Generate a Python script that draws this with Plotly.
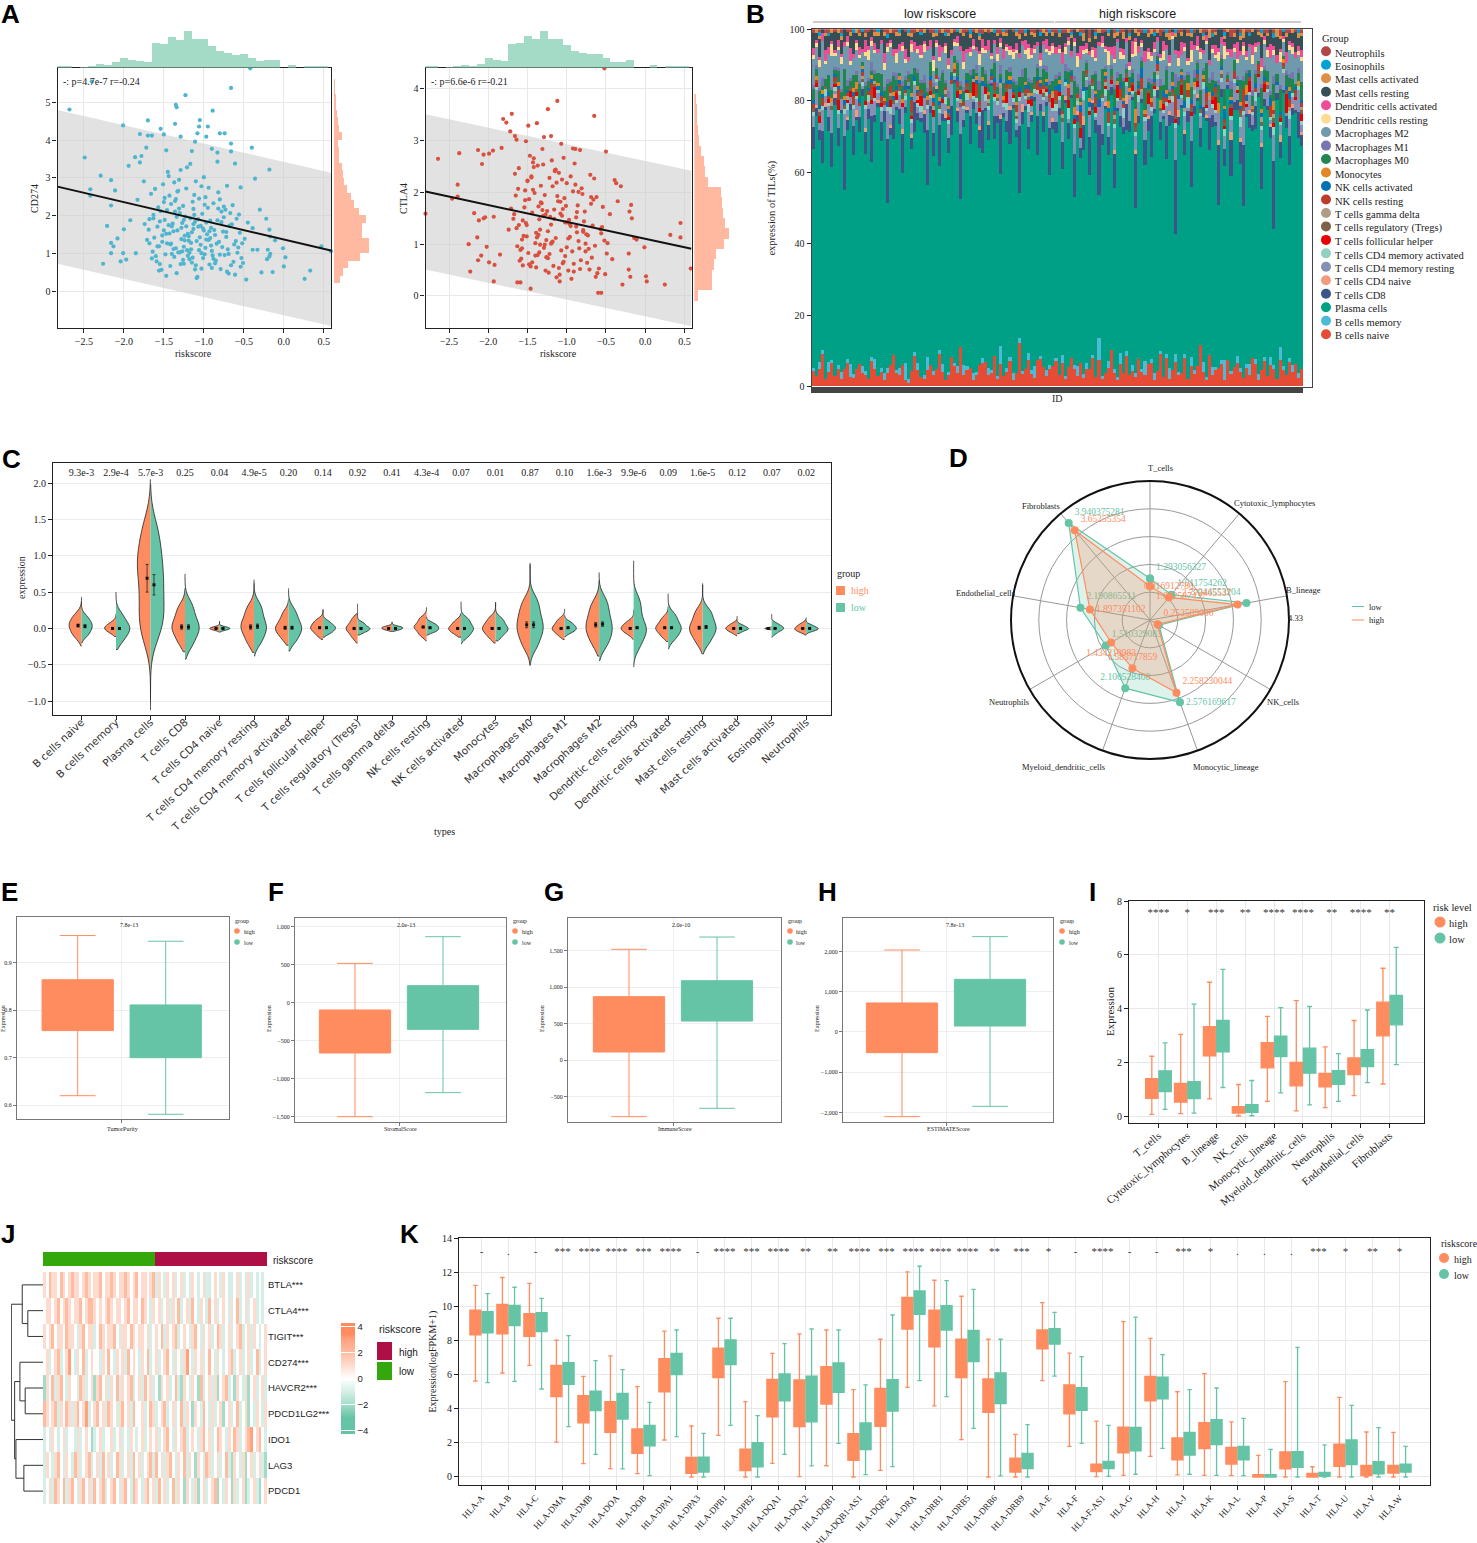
import numpy as np
import plotly.graph_objects as go

W, H = 1477, 1543
ORANGE = '#FF8C5F'
GREEN = '#66C4A6'
SERIF = 'Liberation Serif'
SANS = 'Liberation Sans'

# ---------- panel A
cd274_x = [-2.68,-2.84,-2.49,-2.29,-2.16,-2.42,-2.42,-2.16,-2.11,-2.21,-2.26,-2.16,-2.08,-2.13,-2.16,-2.04,-1.97,-2.01,-1.85,-2.01,
           -1.80,-1.70,-1.70,-1.65,-1.72,-1.54,-1.50,-1.47,-1.35,-1.34,-1.23,-0.66,-0.89,-1.05,-1.36,-1.06,-0.95,-1.29,-1.08,-0.97,
           -0.80,-0.74,-0.66,-0.40,-0.66,-0.83,-0.90,-1.11,-1.15,-0.61,-0.83,-0.18,-0.36,-0.54,-0.71,-0.30,-0.22,-0.39,-0.18,-0.17,
           -0.11,-0.01,0.47,0.59,0.26,0.33,0.02,0.00,-0.14,-0.28,-0.18,-0.21,-0.17,-0.20,-0.33,-0.39,-0.42,-2.40,
           -1.62,-1.55,-1.48,-1.41,-1.35,-1.28,-1.22,-1.15,-1.09,-1.02,-0.96,-0.90,-0.83,-0.77,-0.71,-0.64,-0.58,-1.71,-1.66,-1.60,
           -1.53,-1.46,-1.39,-1.33,-1.26,-1.19,-1.13,-1.06,-1.00,-0.93,-0.87,-0.80,-0.74,-0.68,-0.61,-0.55,-1.68,-1.57,-1.50,-1.44,
           -1.37,-1.30,-1.24,-1.17,-1.11,-1.04,-0.98,-0.91,-0.85,-0.78,-0.72,-0.66,-0.59,-0.53,-1.64,-1.58,-1.51,-1.43,-1.36,-1.29,
           -1.23,-1.16,-1.10,-1.03,-0.97,-0.89,-0.82,-0.76,-0.70,-0.63,-0.56,-0.49,-1.69,-1.63,-1.56,-1.49,-1.42,-1.34,-1.27,-1.20,
           -1.14,-1.08,-1.01,-0.95,-0.88,-0.81,-0.75,-0.69,-0.62,-0.54,-0.47,-1.59,-1.52,-1.45,-1.38,-1.31,-1.25,-1.18,-1.12,-1.05,
           -0.99,-0.92,-0.86,-0.79,-0.73,-0.65,-0.57,-0.51,-1.65,-1.54,-1.47,-1.40,-1.32,-1.21,-1.07,-0.94,-0.84,-1.61,-1.56,-1.42,
           -1.33,-1.26,-1.20,-1.13,-1.03,-0.97,-0.88,-0.80,-0.72,-0.67,-0.60,-1.74,-1.68,-1.49,-1.37,-1.28,-1.17,-1.09,-0.98,-0.91,
           -1.44,-1.38,-1.31,-1.24,-1.18,-1.11,-1.04,-0.99,-0.92,-1.52,-1.46,-1.40,-1.27,-1.15,-1.01,-1.35,-1.21,-1.07,-1.25,-1.12,
           -1.58,-1.47,-1.36,-1.30,-1.22,-1.14,-1.06,-0.94,-0.86,-0.75,-1.50,-1.41,-1.32,-1.19,-1.10,-1.00,-0.90,-0.78,-0.69,-1.63,
           -1.55,-1.43,-1.34,-1.25,-1.16,-1.03,-0.93,-0.82,-1.29,-1.13,-2.00,-1.92,-1.86,-1.80,-1.94,-1.75,-1.83,-1.78,-0.45,-0.52]
cd274_y = [4.81,4.31,3.54,3.06,2.94,2.70,2.53,2.27,2.67,1.73,0.73,1.28,1.40,1.19,1.01,0.79,0.84,1.01,1.01,4.39,
           4.16,4.52,4.12,4.12,3.80,4.30,4.15,3.73,4.93,4.87,5.19,5.38,4.78,4.53,4.43,4.36,4.36,4.09,4.18,4.09,
           4.18,4.18,3.91,3.80,3.70,3.67,3.77,3.96,3.71,3.38,3.43,3.22,2.98,2.75,2.79,2.16,1.92,1.67,1.63,1.45,
           1.35,1.14,1.19,1.06,0.33,0.55,0.90,0.66,0.51,0.50,0.92,0.85,0.99,1.10,1.10,1.10,5.90,5.55,
           1.42,1.85,0.98,2.31,1.14,1.68,2.72,0.76,1.33,2.05,1.51,0.62,1.88,1.17,0.52,2.28,1.02,1.36,2.58,0.93,
           0.57,1.27,1.79,2.64,0.83,1.46,2.18,1.09,3.02,0.71,1.62,2.43,0.96,1.74,0.44,1.55,1.91,2.22,1.61,3.05,
           0.91,2.07,1.35,3.37,0.58,1.73,2.49,1.21,0.81,2.11,1.44,0.69,1.92,0.88,1.05,1.71,2.83,1.53,2.39,0.72,
           1.98,1.28,2.91,1.01,1.82,0.95,2.62,1.58,1.11,0.78,2.03,1.39,1.63,2.02,1.19,2.47,0.67,1.97,1.06,1.52,
           2.37,0.38,1.66,2.21,0.86,1.31,1.96,0.47,1.24,0.65,0.31,0.79,1.31,3.16,1.59,2.95,1.18,0.85,2.55,1.43,
           0.98,1.87,1.49,0.59,2.16,1.77,1.16,0.75,0.87,2.12,0.41,1.72,1.03,3.28,1.91,2.74,1.26,2.71,0.55,1.24,
           1.61,2.26,0.94,1.65,0.60,1.37,2.33,0.97,1.57,2.07,1.33,1.78,1.27,1.89,2.88,1.38,1.93,0.35,1.15,1.68,
           1.75,1.12,2.19,1.47,1.02,1.84,1.23,2.29,1.41,1.48,2.15,0.99,1.81,1.56,0.88,2.44,1.09,1.71,0.73,2.02,
           1.19,1.52,2.11,1.03,1.72,0.89,2.45,1.36,0.74,2.24,2.36,1.26,2.66,1.34,0.69,1.61,1.07,1.83,0.99,1.93,
           0.72,2.53,0.48,1.89,1.11,2.78,1.59,2.19,3.21,1.78,1.64,1.88,3.55,3.41,3.32,2.91,2.42,3.58,1.82,1.27]
ctla4_x = [-1.70,-1.81,-1.77,-1.12,-1.24,-0.65,-1.49,-1.38,-1.72,-1.66,-1.64,-1.52,-1.29,-1.20,-1.07,-1.31,-1.83,-1.94,-2.13,-2.06,
           -1.99,-2.37,-2.64,-2.08,-0.50,-0.83,-0.92,-0.89,-2.39,-2.39,-2.46,-2.80,-2.18,-2.12,-2.06,-2.04,-1.93,-2.14,-2.25,-2.02,
           -2.09,-2.13,-2.23,-1.93,-1.99,-1.92,-1.85,0.58,-0.52,0.45,0.45,0.32,-0.01,0.25,0.02,0.01,-0.29,-0.19,-0.21,-0.21,
           -0.39,-0.37,-0.31,-0.35,-0.18,-0.20,-0.17,-0.14,-0.11,-0.56,-0.60,-1.46,-1.63,-1.59,
           -1.65,-1.58,-1.52,-1.45,-1.39,-1.32,-1.26,-1.19,-1.13,-1.06,-1.00,-0.93,-0.87,-0.80,-0.74,-0.67,-0.61,-0.54,-0.48,-0.42,
           -1.62,-1.55,-1.48,-1.42,-1.35,-1.29,-1.22,-1.16,-1.09,-1.03,-0.96,-0.90,-0.83,-0.77,-0.70,-0.64,-0.57,-0.51,-0.45,-1.68,
           -1.60,-1.53,-1.47,-1.40,-1.33,-1.27,-1.20,-1.14,-1.07,-1.01,-0.94,-0.88,-0.81,-0.75,-0.68,-0.62,-0.55,-0.49,-1.74,-1.66,
           -1.57,-1.50,-1.44,-1.37,-1.30,-1.24,-1.17,-1.11,-1.04,-0.98,-0.91,-0.85,-0.78,-0.72,-0.65,-0.59,-0.52,-1.71,-1.63,-1.56,
           -1.49,-1.43,-1.36,-1.28,-1.23,-1.15,-1.08,-1.02,-0.95,-0.89,-0.82,-0.76,-0.69,-0.63,-0.56,-1.61,-1.54,-1.46,-1.41,-1.34,
           -1.25,-1.18,-1.10,-1.05,-0.97,-0.92,-0.84,-0.79,-0.71,-0.66,-1.59,-1.51,-1.45,-1.38,-1.31,-1.26,-1.21,-1.13,-1.09,-0.99,
           -1.64,-1.56,-1.48,-1.42,-1.35,-1.27,-1.19,-1.12,-1.04,-0.96,-0.86,-0.73,-1.53,-1.39,-1.22,-1.06,-1.33,-1.16,-1.00,-0.87,
           -1.51,-1.44,-1.36,-1.28,-1.18,-1.10,-1.02,-0.95,-0.85,-0.76,-1.67,-1.57,-1.43,-1.34,-1.24,-1.15,-1.05,-0.91,-0.79,-0.69,
           -1.61,-1.50,-1.40,-1.30,-1.20,-1.08,-0.98,-0.88,-1.37,-1.14]
ctla4_y = [3.52,3.42,3.35,3.77,3.61,3.48,3.29,3.34,3.18,3.09,3.02,2.99,3.07,3.09,2.94,2.84,2.86,2.81,2.82,2.73,
           2.75,2.76,2.65,2.55,2.79,2.82,2.85,2.84,2.15,1.92,1.88,1.59,1.60,1.46,1.50,1.52,1.53,1.13,1.00,0.95,
           0.78,0.69,0.47,0.28,0.65,0.60,0.80,0.53,4.40,1.41,1.13,1.18,0.94,0.22,0.28,0.38,0.22,0.37,0.51,0.82,
           2.24,2.18,2.12,1.83,1.76,1.63,1.50,1.12,1.09,0.06,0.06,0.14,0.26,0.26,
           1.94,0.72,1.41,2.31,0.55,1.79,1.08,2.62,0.36,1.55,2.18,0.86,1.23,1.97,0.64,1.36,0.44,1.72,1.02,0.71,
           2.07,1.16,0.61,2.49,1.48,0.93,2.28,1.67,0.28,1.89,1.14,2.56,0.52,1.63,2.34,0.97,1.29,0.42,1.58,1.49,
           0.68,1.85,2.71,1.02,2.13,0.49,1.38,2.44,0.88,1.74,0.33,1.52,2.08,1.19,0.74,1.91,1.33,0.82,1.28,2.36,
           1.09,2.22,1.61,0.79,2.54,1.25,0.58,1.83,2.67,1.11,0.47,2.01,1.44,0.91,2.27,0.53,1.07,1.69,0.96,1.46,
           0.83,2.58,1.18,1.95,0.45,2.41,1.59,0.77,1.35,2.15,0.69,1.01,1.78,0.37,1.21,2.47,1.71,0.57,1.99,0.99,
           1.64,1.05,2.38,0.63,1.47,2.02,0.92,1.27,0.51,1.86,0.89,1.37,2.29,1.13,1.66,0.75,1.53,2.19,0.41,1.42,
           1.31,0.59,1.87,2.66,0.84,1.57,1.03,1.93,0.66,1.39,1.75,1.17,2.04,1.22,0.81,2.25,1.81,1.49,0.94,1.62,
           1.15,0.65,1.73,0.99,2.12,0.54,1.42,2.31,1.06,0.86,1.58,0.92,2.05,1.28,0.73,2.43,1.68,0.62,1.24,1.91,
           1.37,2.23,0.78,1.55,1.01,1.82,0.49,1.34,2.52,1.12]

cd274_fit_x = [-2.83, 0.59]
cd274_fit_y = [2.77, 1.08]
cd274_band_hi = [4.80, 3.14]
cd274_band_lo = [0.73, -0.92]
ctla4_fit_x = [-2.80, 0.59]
ctla4_fit_y = [2.02, 0.91]
ctla4_band_hi = [3.51, 2.42]
ctla4_band_lo = [0.51, -0.585]

risk_bins = [-2.8,-2.7,-2.6,-2.5,-2.4,-2.3,-2.2,-2.1,-2.0,-1.9,-1.8,-1.7,-1.6,-1.5,-1.4,-1.3,-1.2,-1.1,-1.0,-0.9,-0.8,-0.7,-0.6,-0.5,-0.4,-0.3,-0.2,-0.1,0.0,0.1,0.2,0.3,0.4,0.5]
risk_counts = [4,4,0,1,6,10,8,16,30,22,20,16,75,72,95,85,112,88,88,65,52,46,38,42,30,20,22,24,0,7,0,4,5,3]
risk_counts_r = [3,3,0,1,4,8,6,10,30,22,20,73,75,96,88,112,88,88,68,52,46,40,42,30,18,18,22,0,0,8,0,4,5,3]
cd274_bins = [5.5,5.3,5.1,4.9,4.7,4.5,4.3,4.1,3.9,3.7,3.5,3.3,3.1,2.9,2.7,2.5,2.3,2.1,1.9,1.7,1.5,1.3,1.1,0.9,0.7,0.5,0.3]
cd274_counts = [2,2,3,4,6,8,10,16,8,10,10,16,18,22,28,36,42,52,68,60,60,75,75,55,30,20,12]
ctla4_bins = [3.8,3.6,3.4,3.2,3.0,2.8,2.6,2.4,2.2,2.0,1.8,1.6,1.4,1.2,1.0,0.8,0.6,0.4,0.2,0.0]
ctla4_counts = [5,6,6,8,10,14,20,22,30,55,58,60,65,72,62,45,42,38,38,8]

# ---------- panel B, bottom of the stack first
cell_types = ['B cells naive','B cells memory','Plasma cells','T cells CD8','T cells CD4 naive','T cells CD4 memory resting',
              'T cells CD4 memory activated','T cells follicular helper','T cells regulatory (Tregs)','T cells gamma delta',
              'NK cells resting','NK cells activated','Monocytes','Macrophages M0','Macrophages M1','Macrophages M2',
              'Dendritic cells resting','Dendritic cells activated','Mast cells resting','Mast cells activated','Eosinophils','Neutrophils']
cell_colors = ['#E64B35','#4DBBD5','#00A087','#3C5488','#F39B7F','#8491B4','#91D1C2','#E60000','#7E6148','#B09C85',
               '#BC3C29','#0072B5','#E18727','#20854E','#7876B1','#6F99AD','#FFDC91','#EE4C97','#374E55','#DF8F44','#00A1D5','#B24745']
b_naive = [4,3,5,8,2,4,6,3,5,2,4,7,3,2,5,6,4,3,2,6,5,3,4,2,3,6,8,4,3,5,2,1,4,7,5,3,2,4,6,3,5,8,4,2,3,7,6,4,9,3,5,4,2,3,6,5,7,3,4,8,2,5,3,4,6,2,4,9,3,5,7,4,2,6,8,5,3,4,6,7,
           3,6,2,5,9,4,3,7,2,5,4,8,3,6,2,4,5,10,3,2,6,4,7,3,5,2,8,4,3,6,5,2,4,9,3,7,2,5,6,3,4,8,2,5,3,6,11,4,2,7,3,5,4,6,2,8,3,5,7,4,2,6,3,9,5,2,4,7,3,6,4,2,8,5,3,6,4,7,2,5]
b_memory = [1,0,2,1,0,3,1,0,1,2,0,1,4,1,0,0,2,1,0,1,3,0,1,2,1,0,0,1,2,0,5,1,0,1,2,0,1,3,0,1,0,1,2,0,1,0,1,2,0,3,1,0,2,1,0,1,0,2,1,0,1,4,0,1,1,2,0,1,1,0,2,1,3,0,1,0,2,1,0,1,
            0,2,1,0,0,1,3,0,1,2,0,1,0,5,1,0,2,0,1,1,3,0,1,0,2,1,0,1,4,0,1,2,0,1,0,1,3,0,2,1,0,1,0,2,1,0,0,3,1,0,2,1,0,1,6,0,1,0,2,1,0,1,3,0,1,2,0,1,0,2,1,0,4,1,0,1,2,0,1,0]
plasma = [58,72,64,46,76,66,50,79,62,74,40,68,78,52,71,63,81,57,75,47,69,80,61,73,36,65,55,77,67,44,74,82,59,51,72,80,63,41,69,56,78,46,66,76,60,52,83,71,34,65,75,49,79,68,60,43,73,62,84,57,70,38,77,64,50,80,68,30,62,74,54,78,66,47,72,59,79,44,69,63,
          66,48,77,58,83,39,71,62,54,80,45,69,75,33,64,79,57,70,42,81,60,73,50,66,85,37,68,76,53,62,44,78,71,59,83,48,65,74,29,67,80,55,72,41,63,77,52,69,84,46,61,75,35,70,58,82,49,67,73,56,40,79,64,71,51,86,43,68,76,60,32,74,57,81,65,47,70,78,54,63]
t_cd8 = [6,2,3,8,1,4,9,2,5,1,12,3,2,7,1,4,2,6,3,11,2,1,5,3,14,2,6,1,4,9,2,1,3,7,2,1,5,13,2,6,1,10,2,1,4,7,1,3,15,2,1,6,2,3,5,9,1,4,1,6,2,12,1,3,8,1,2,14,3,1,6,2,1,9,2,4,1,11,2,3,
         2,7,1,4,1,10,2,3,6,1,9,2,4,16,3,1,5,2,8,1,3,2,6,3,1,12,2,1,7,3,9,1,2,5,1,8,3,2,18,2,1,6,3,11,2,1,5,3,1,7,3,1,13,2,5,1,9,2,3,6,14,1,4,2,5,1,10,2,1,3,16,2,5,1,3,7,2,1,6,3]
t_cd4_naive = [0,1,0,0,1,0,0,1,0,0,0,1,0,0,2,0,0,1,0,0,0,1,0,0,0,1,0,0,0,1,0,0,1,0,0,0,1,0,0,0,1,0,0,2,0,0,0,1,0,0,1,0,0,0,1,0,0,1,0,0,0,1,0,0,1,0,0,0,2,0,0,1,0,0,0,1,0,0,1,0,
               0,0,1,0,0,0,1,0,2,0,0,1,0,0,0,1,0,0,1,0,0,0,2,0,0,1,0,0,0,1,0,0,1,0,0,0,1,0,0,2,0,1,0,0,0,1,0,0,1,0,0,0,1,0,0,0,2,0,0,1,0,0,1,0,0,0,1,0,0,1,0,0,2,0,0,0,1,0,0,1]
t_cd4_rest = [3,4,2,5,2,3,6,1,4,3,5,2,2,4,3,3,1,5,2,3,4,2,3,2,6,3,3,1,4,5,2,1,3,4,2,2,3,5,2,4,1,3,3,2,4,5,1,2,6,3,2,4,1,3,3,5,2,3,1,4,3,6,2,3,4,1,2,5,3,2,4,2,1,5,3,3,2,6,2,3,
              2,5,3,1,4,6,2,3,4,2,5,3,1,4,9,2,3,1,5,2,4,3,2,6,1,3,4,2,5,3,1,4,2,3,1,5,2,4,8,3,2,4,1,6,3,2,3,5,1,4,2,3,6,2,4,1,3,5,2,3,7,2,4,3,1,5,3,2,4,1,6,2,3,5,1,4,2,3,5,2]
t_cd4_act = [1,1,0,1,2,1,0,1,1,0,1,2,0,1,1,0,1,1,2,0,1,1,1,0,1,2,0,1,1,0,1,0,1,1,1,2,0,1,1,0,1,1,0,2,1,0,1,1,0,1,2,0,1,1,1,0,2,1,0,1,1,0,1,2,0,1,1,1,0,1,2,0,1,1,0,1,1,0,1,2,
             1,0,1,3,0,1,1,0,2,1,0,1,1,0,1,2,1,0,1,1,0,3,1,0,1,1,2,0,1,0,1,2,1,0,1,1,0,2,1,0,1,1,3,0,1,0,1,2,1,0,1,1,0,1,2,0,1,1,0,3,1,0,1,1,2,0,1,0,1,1,2,0,1,1,0,2,1,0,1,1]
t_fh = [0,1,2,0,0,1,0,1,3,0,0,1,2,0,1,0,0,1,0,1,3,0,1,0,0,2,0,2,0,1,0,0,1,0,1,3,0,0,1,2,0,0,1,0,1,0,0,2,0,0,1,0,4,0,1,0,2,0,0,1,0,0,0,3,0,1,0,1,0,0,1,2,0,0,1,0,1,0,3,0,
        1,0,0,2,0,1,0,3,0,0,1,0,2,0,0,1,0,1,0,4,0,0,1,0,2,0,1,0,0,3,0,1,0,0,2,0,1,0,1,0,3,0,0,1,0,2,0,0,1,0,1,4,0,0,1,0,2,0,1,0,0,1,3,0,0,1,0,2,0,0,1,0,1,0,5,0,0,1,0,2]
t_reg = [1,0,1,0,1,0,1,1,0,0,1,0,1,0,1,0,1,0,0,1,1,0,1,0,0,1,1,0,1,0,0,1,1,0,0,1,0,1,1,0,0,1,0,1,1,0,0,1,1,0,1,0,0,1,1,0,0,1,0,1,1,0,0,1,1,0,1,0,0,1,1,0,1,0,0,1,1,1,0,1,
         0,1,0,1,1,0,0,1,0,1,0,1,1,0,1,0,0,1,1,0,1,0,1,0,0,1,1,0,0,1,0,1,0,1,1,0,0,1,1,0,1,0,0,1,0,1,1,0,1,0,0,1,0,1,1,0,1,0,0,1,1,0,0,1,0,1,1,0,1,0,1,0,0,1,1,0,0,1,0,1]
t_gd = [0,0,1,0,0,0,1,0,0,0,0,1,0,0,0,0,1,0,0,0,1,0,0,0,0,1,0,0,0,0,1,0,0,0,1,0,0,0,0,1,0,0,0,1,0,0,0,0,1,0,0,0,1,0,0,0,0,1,0,0,0,1,0,0,0,0,1,0,0,0,1,0,0,0,0,1,0,0,1,0,
        0,1,0,0,0,0,1,0,0,0,1,0,0,0,0,1,0,0,1,0,0,0,0,1,0,0,0,1,0,0,0,0,1,0,0,0,1,0,0,0,0,1,0,0,1,0,0,0,0,1,0,0,0,1,0,0,0,0,1,0,0,1,0,0,0,0,1,0,0,0,1,0,0,0,0,1,0,0,0,1]
nk_rest = [1,1,0,2,0,1,0,1,3,0,0,1,0,2,0,1,1,0,1,3,0,0,1,1,0,2,0,1,1,0,1,0,3,0,1,1,0,0,2,1,1,0,0,1,0,1,1,2,0,1,1,0,0,3,1,0,0,1,1,2,0,0,1,1,0,1,2,0,0,1,1,0,0,2,1,1,0,1,0,3,
           0,1,0,2,1,0,1,4,0,1,0,1,2,0,0,1,3,0,1,0,2,1,0,0,1,1,0,3,1,0,1,0,2,0,1,1,0,1,5,0,1,0,2,1,0,1,0,1,3,0,1,2,0,0,1,1,0,2,0,1,4,0,1,0,1,2,0,1,0,3,1,0,1,1,0,2,0,1,0,1]
nk_act = [1,0,1,1,0,1,0,1,1,0,1,1,0,1,0,1,1,0,1,1,0,1,1,0,1,0,1,1,1,0,1,0,1,1,1,0,1,0,1,1,0,1,1,0,1,1,0,1,1,0,1,0,1,1,0,1,1,0,1,1,0,1,0,1,1,1,0,1,0,1,1,1,0,1,1,0,1,1,0,1,
          2,0,1,0,1,1,0,2,1,0,1,0,1,2,0,1,1,0,1,0,2,1,0,1,1,0,1,3,0,1,0,1,1,0,2,1,0,1,0,1,1,2,0,1,0,1,1,0,2,0,1,1,0,1,3,0,1,0,1,1,0,2,1,0,1,0,1,1,0,2,0,1,1,0,1,2,0,1,0,1]
mono = [0,1,0,1,0,0,1,0,1,0,1,0,0,1,2,0,1,0,0,1,0,1,0,1,0,0,1,0,1,1,0,0,1,0,1,0,0,1,0,1,0,1,0,0,1,0,2,0,1,0,0,1,0,1,0,1,0,1,0,0,1,0,1,0,1,0,1,0,0,1,0,1,0,0,1,0,1,0,1,0,
        1,0,0,1,0,2,0,1,0,0,1,0,1,0,0,1,2,0,0,1,0,1,0,1,0,3,0,0,1,0,1,0,0,2,0,1,0,1,0,0,1,0,2,0,1,0,0,1,0,1,0,0,2,0,1,0,1,0,0,1,0,3,0,1,0,0,1,0,1,0,2,0,0,1,0,1,0,0,1,0]
m0 = [3,2,4,1,2,5,2,1,3,2,6,1,2,3,2,4,1,4,2,1,2,3,5,2,4,1,4,2,1,3,2,1,5,2,4,2,3,1,4,2,2,4,6,1,2,1,2,4,1,3,2,4,2,1,5,2,3,2,1,4,2,1,4,3,1,2,5,2,4,4,1,3,2,2,1,4,2,1,3,2,
      1,4,2,3,1,6,2,1,4,2,3,1,5,2,7,1,3,2,4,1,2,5,1,3,2,4,1,2,6,1,3,2,1,4,2,5,1,3,2,4,1,6,2,3,1,2,4,1,8,2,3,1,4,2,5,1,2,3,1,6,2,4,1,3,2,1,5,2,3,1,4,2,7,1,3,2,4,1,2,5]
m1 = [1,1,1,2,0,0,1,1,1,1,0,2,1,0,1,1,0,1,1,2,1,0,0,1,1,1,1,2,0,1,1,1,0,0,1,1,2,1,0,1,0,1,1,1,2,0,0,1,1,1,0,1,0,2,1,0,1,1,0,1,1,2,0,0,1,1,1,0,2,0,1,1,0,1,0,1,2,1,0,1,
      1,0,2,1,0,1,1,3,0,1,1,0,1,2,0,1,0,1,1,2,0,1,1,0,1,0,2,1,0,1,1,0,1,2,0,1,1,0,3,1,0,1,1,0,2,1,0,1,0,1,2,0,1,1,0,1,2,0,1,0,1,1,0,2,1,0,1,1,0,1,2,0,1,0,1,1,2,0,1,0]
m2 = [7,5,6,9,4,6,8,3,5,7,5,10,4,4,6,6,3,7,5,4,5,6,8,5,6,9,4,3,6,7,4,3,6,4,5,7,6,9,4,3,6,4,5,8,6,4,3,4,7,5,6,3,6,4,4,3,5,8,3,4,6,4,7,5,3,6,8,4,6,4,5,7,6,4,3,5,4,6,8,6,
      5,8,3,6,4,7,5,9,4,2,6,5,3,8,6,4,7,3,5,9,4,6,5,2,4,8,6,3,7,5,4,6,3,5,8,4,6,10,5,3,4,7,2,6,5,3,8,4,6,3,5,7,4,3,9,5,6,2,4,7,5,3,6,8,4,5,3,6,4,9,5,3,7,4,2,6,5,8,3,6]
dc_rest = [1,1,2,0,1,0,3,1,1,2,0,1,1,0,2,1,0,1,3,1,1,0,0,2,1,1,0,3,0,1,1,0,2,0,1,1,2,0,0,3,1,1,0,2,1,0,1,1,0,2,0,1,1,0,3,1,1,0,1,0,2,1,0,1,1,2,1,0,0,1,3,1,1,0,2,0,1,1,2,0,
           1,0,2,1,0,1,3,0,1,1,0,2,1,0,1,1,4,0,1,0,2,1,0,1,1,3,0,1,0,2,1,1,0,1,3,0,1,1,0,2,0,1,1,3,0,1,2,0,1,0,1,1,2,0,4,1,0,1,1,0,2,1,0,3,1,0,1,1,2,0,1,0,3,1,0,1,2,0,1,1]
dc_act = [2,1,1,2,3,2,1,1,2,1,1,2,4,1,1,2,1,3,1,1,2,1,1,3,1,1,2,1,2,1,3,1,1,2,1,3,1,1,2,1,1,3,1,1,2,1,1,2,1,3,1,1,2,1,1,2,1,3,1,1,2,1,3,1,1,1,2,1,1,3,1,2,1,1,2,1,3,1,1,2,
          1,3,1,1,2,1,1,4,1,2,1,1,3,1,2,1,1,2,3,1,1,2,1,1,4,1,2,1,3,1,1,2,1,1,3,1,2,1,1,2,4,1,1,2,1,3,1,1,2,1,1,3,1,2,1,1,2,1,5,1,1,2,1,3,1,1,2,1,1,4,1,2,1,1,3,1,1,2,1,2]
mast_rest = [4,2,5,1,4,3,2,5,2,4,3,1,4,5,2,3,5,1,4,2,2,4,3,5,1,2,4,4,2,3,5,6,1,2,4,3,2,4,2,5,1,3,4,2,6,4,2,1,3,4,5,2,2,4,3,1,4,2,6,2,3,1,4,2,4,5,2,3,2,1,4,4,2,3,5,2,1,3,2,4,
             2,5,3,1,4,2,6,3,1,4,2,5,3,2,1,4,3,5,2,1,4,3,2,6,4,1,3,2,5,3,4,2,1,5,3,2,4,1,3,5,2,4,6,1,3,2,4,3,1,5,2,3,4,2,1,5,3,2,4,3,1,6,2,4,3,2,5,1,3,4,2,5,3,1,4,2,3,6,2,4]
mast_act = [0,1,1,0,1,0,1,0,1,1,0,0,1,0,1,1,0,1,0,0,1,1,0,1,0,1,0,1,1,0,0,1,1,0,1,0,1,0,0,1,1,0,1,0,1,1,0,0,1,1,0,1,0,1,1,0,1,0,1,0,1,0,1,1,0,0,1,1,0,1,0,1,1,0,0,1,1,0,1,0,
            1,0,0,1,1,0,1,0,2,0,1,0,1,1,0,0,1,0,1,1,0,2,0,1,0,1,1,0,0,1,1,0,1,0,0,1,2,0,1,0,1,0,1,1,0,0,1,1,0,2,0,1,0,0,1,1,0,1,0,1,2,0,0,1,0,1,1,0,1,0,0,2,1,0,1,0,1,0,1,1]
eos = [0,0,1,0,0,1,0,0,0,1,0,0,0,1,0,0,1,0,0,0,0,1,0,0,1,0,0,0,1,0,0,1,0,0,0,1,0,0,0,0,1,0,0,1,0,0,0,1,0,0,0,1,0,0,1,0,0,0,0,1,0,0,1,0,0,0,1,0,0,1,0,0,0,0,1,0,0,1,0,0,
       1,0,0,0,1,0,0,1,0,0,0,0,1,0,0,0,1,0,0,1,0,0,0,1,0,0,0,0,1,0,0,1,0,0,0,1,0,0,1,0,0,0,0,1,0,0,0,1,0,0,1,0,0,0,1,0,0,0,0,1,0,0,1,0,0,0,1,0,0,0,1,0,0,1,0,0,0,0,1,0]
neut = [1,0,1,0,1,1,0,1,0,1,0,1,1,0,0,1,0,1,1,0,1,0,0,1,1,0,1,1,0,0,1,0,1,1,0,1,0,0,1,1,0,1,0,1,1,0,1,0,0,1,1,0,1,0,1,1,0,1,0,0,1,1,0,1,0,1,0,1,1,0,0,1,1,0,1,0,1,0,1,1,
        0,1,1,0,1,0,0,1,1,0,2,0,1,0,1,1,0,0,1,0,1,1,0,1,0,0,1,1,0,1,0,1,0,2,1,0,1,0,0,1,1,0,1,0,1,0,0,1,1,0,1,1,0,0,1,0,2,1,0,1,0,1,1,0,0,1,0,1,1,0,1,0,2,0,1,1,0,1,0,1]
til_series = [b_naive,b_memory,plasma,t_cd8,t_cd4_naive,t_cd4_rest,t_cd4_act,t_fh,t_reg,t_gd,nk_rest,nk_act,mono,m0,m1,m2,dc_rest,dc_act,mast_rest,mast_act,eos,neut]

# ---------- panel C
p_labels = ['9.3e-3','2.9e-4','5.7e-3','0.25','0.04','4.9e-5','0.20','0.14','0.92','0.41','4.3e-4','0.07','0.01','0.87','0.10','1.6e-3','9.9e-6','0.09','1.6e-5','0.12','0.07','0.02']
high_tip = [0.43,0.20,2.05,0.55,0.10,0.62,0.40,0.26,0.20,0.09,0.29,0.21,0.36,0.88,0.27,0.66,0.26,0.30,0.62,0.17,0.02,0.15]
high_end = [-0.24,-0.11,-1.12,-0.32,-0.05,-0.33,-0.23,-0.15,-0.20,-0.04,-0.17,-0.12,-0.20,-0.51,-0.15,-0.38,-0.15,-0.18,-0.35,-0.10,-0.02,-0.09]
low_tip = [0.37,0.50,1.98,0.75,0.10,0.67,0.55,0.26,0.34,0.09,0.16,0.37,0.36,0.90,0.18,0.77,0.93,0.48,0.60,0.12,0.20,0.12]
low_end = [-0.20,-0.29,-0.98,-0.42,-0.05,-0.38,-0.31,-0.12,-0.09,-0.04,-0.09,-0.21,-0.17,-0.50,-0.11,-0.44,-0.53,-0.28,-0.35,-0.07,-0.12,-0.08]
high_samples = [[-0.12,-0.06,0,0.04,0.08,0.13,0.20],[-0.06,-0.03,0,0,0.02,0.05,0.08],[-0.1,0.15,0.4,0.7,0.9,1.1,1.4],[-0.2,-0.1,0,0.02,0.1,0.2,0.3],
                [-0.02,-0.01,0,0.01,0.02],[-0.2,-0.1,0,0.03,0.1,0.2,0.3],[-0.15,-0.07,-0.02,0.01,0.06,0.13,0.22],[-0.1,-0.05,-0.01,0.01,0.04,0.08,0.12],
                [-0.13,-0.07,-0.02,0,0.03,0.08,0.14],[-0.02,-0.01,0,0.01,0.02,0.03],[-0.1,-0.05,0,0.02,0.05,0.1,0.15],[-0.08,-0.04,-0.01,0,0.03,0.07,0.11],
                [-0.13,-0.07,-0.02,0,0.04,0.09,0.15],[-0.25,-0.12,-0.02,0.05,0.15,0.25,0.38],[-0.1,-0.05,-0.01,0,0.04,0.08,0.13],[-0.22,-0.1,-0.02,0.05,0.13,0.24,0.35],
                [-0.08,-0.04,-0.01,0,0.03,0.06,0.1],[-0.12,-0.06,-0.02,0.01,0.04,0.09,0.15],[-0.2,-0.1,-0.03,0.01,0.07,0.16,0.25],[-0.06,-0.03,-0.01,0,0.02,0.04,0.07],
                [-0.01,0,0,0.01],[-0.05,-0.03,-0.01,0,0.02,0.04,0.07]]
low_samples = [[-0.1,-0.05,0,0.03,0.07,0.11,0.17],[-0.18,-0.1,-0.03,0,0.04,0.11,0.2],[-0.05,0.15,0.35,0.6,0.8,1.05,1.35],[-0.24,-0.12,-0.02,0.02,0.1,0.22,0.34],
               [-0.02,-0.01,0,0.01,0.02],[-0.2,-0.1,-0.01,0.03,0.12,0.22,0.33],[-0.18,-0.1,-0.02,0.01,0.08,0.16,0.26],[-0.07,-0.04,-0.01,0.01,0.03,0.06,0.1],
               [-0.06,-0.03,-0.01,0,0.02,0.05,0.08],[-0.02,-0.01,0,0.01,0.02,0.03],[-0.05,-0.03,-0.01,0.01,0.03,0.05,0.08],[-0.12,-0.07,-0.02,0,0.04,0.09,0.14],
               [-0.12,-0.06,-0.02,0,0.04,0.09,0.14],[-0.25,-0.12,-0.02,0.05,0.15,0.27,0.4],[-0.06,-0.03,-0.01,0.01,0.03,0.06,0.09],[-0.24,-0.12,-0.03,0.05,0.15,0.27,0.4],
               [-0.25,-0.12,-0.03,0.01,0.12,0.26,0.4],[-0.15,-0.08,-0.02,0.01,0.06,0.13,0.2],[-0.2,-0.1,-0.03,0.02,0.08,0.17,0.25],[-0.05,-0.02,-0.01,0,0.01,0.03,0.05],
               [-0.07,-0.03,-0.01,0,0.02,0.04,0.07],[-0.04,-0.02,-0.01,0,0.01,0.03,0.05]]
high_bw = [0.065,0.04,0.24,0.09,0.016,0.09,0.065,0.04,0.045,0.016,0.04,0.04,0.052,0.105,0.04,0.105,0.04,0.045,0.08,0.026,0.006,0.026]
low_bw = [0.052,0.08,0.24,0.105,0.016,0.09,0.08,0.032,0.026,0.016,0.026,0.045,0.045,0.105,0.032,0.105,0.105,0.065,0.08,0.02,0.026,0.02]
high_wd = [0.72,0.66,0.76,0.76,0.56,0.76,0.76,0.72,0.66,0.6,0.72,0.72,0.76,0.76,0.72,0.76,0.72,0.72,0.76,0.66,0.4,0.66]
low_wd = [0.62,0.8,0.78,0.82,0.6,0.72,0.76,0.72,0.72,0.62,0.7,0.72,0.72,0.76,0.68,0.76,0.74,0.76,0.78,0.66,0.7,0.7]
high_mean = [0.04,0.0,0.69,0.02,0.0,0.02,0.01,0.01,0.0,0.0,0.02,0.0,0.0,0.05,0.0,0.05,0.0,0.01,0.01,0.0,0.0,0.0]
low_mean = [0.03,0.0,0.60,0.02,0.0,0.03,0.01,0.01,0.0,0.0,0.01,0.0,0.0,0.05,0.01,0.06,0.01,0.01,0.02,0.0,0.0,0.0]
high_sd = [0.02,0.01,0.19,0.03,0.0,0.03,0.02,0.01,0.01,0.0,0.01,0.01,0.01,0.04,0.01,0.03,0.01,0.01,0.02,0.0,0.0,0.0]
low_sd = [0.02,0.01,0.14,0.03,0.0,0.03,0.02,0.01,0.01,0.0,0.01,0.01,0.01,0.04,0.01,0.03,0.01,0.01,0.02,0.0,0.0,0.0]

# ---------- panel D
radar_cats = ['T_cells','Cytotoxic_lymphocytes','B_lineage','NK_cells','Monocytic_lineage','Myeloid_dendritic_cells','Neutrophils','Endothelial_cells','Fibroblasts']
radar_low = [1.293,1.03,3.05,0.32,2.73,2.26,1.59,2.20,3.94]
radar_high = [1.053,0.917,2.77,0.27,2.41,1.60,1.40,1.90,3.65]
radar_low_txt = ['1.293056327','1.011754262','3.044553204','','2.576169617','2.100528408','1.510329083','2.190865511','3.940375281']
radar_high_txt = ['1.052587437','0.916912780','2.773465537','0.253589006','2.258230044','1.585717859','1.434210983','1.897351102','3.65255354']
radar_low_pos = ['top right','top right','top left','top right','middle right','top center','top right','top right','top right']
radar_high_pos = ['bottom right','top center','top left','top right','top right','top center','bottom center','middle right','top right']

# ---------- panels E to H: upper fence, q3, median, q1, lower fence for high then low
purity_high = [0.957,0.864,0.81,0.757,0.62]
purity_low = [0.945,0.811,0.755,0.70,0.581]
stromal_high = [517,-96,-380,-662,-1500]
stromal_low = [868,224,-60,-351,-1184]
immune_high = [1518,871,490,114,-770]
immune_low = [1686,1089,810,537,-656]
estimate_high = [2038,721,100,-514,-2104]
estimate_low = [2370,1309,730,149,-1847]

# ---------- panel I
immune_cats = ['T_cells','Cytotoxic_lymphocytes','B_lineage','NK_cells','Monocytic_lineage','Myeloid_dendritic_cells','Neutrophils','Endothelial_cells','Fibroblasts']
immune_stars = ['****','*','***','**','****','****','**','****','**']
i_high_up = [2.23,3.04,4.98,1.18,3.71,4.30,2.58,3.56,5.50]
i_high_q3 = [1.40,1.22,3.33,0.36,2.74,2.00,1.59,2.17,4.24]
i_high_med = [1.0,0.85,2.8,0.22,2.3,1.55,1.32,1.85,3.6]
i_high_q1 = [0.67,0.53,2.25,0.12,1.80,1.13,1.09,1.55,2.99]
i_high_lo = [0.07,0.10,0.65,0.01,0.55,0.20,0.32,0.77,1.20]
i_low_up = [2.73,4.17,5.46,1.33,4.04,4.08,2.33,3.95,6.28]
i_low_q3 = [1.69,1.29,3.56,0.43,2.98,2.53,1.70,2.48,4.49]
i_low_med = [1.3,0.95,3.0,0.28,2.6,2.0,1.42,2.15,3.95]
i_low_q1 = [0.92,0.66,2.39,0.15,2.22,1.60,1.19,1.85,3.40]
i_low_lo = [0.26,0.12,1.07,0.02,0.87,0.42,0.55,1.25,1.92]

# ---------- panel J
genes = ['BTLA***','CTLA4***','TIGIT***','CD274***','HAVCR2***','PDCD1LG2***','IDO1','LAG3','PDCD1']
risk_groups = ['low','high']
btla = [1,0,2,1,1,0,2,1,0,1,2,1,1,0,1,2,1,0,1,1,2,0,1,1,2,1,0,1,1,2,1,0,1,2,0,1,1,0,1,2,-1,1,0,-1,1,0,1,-1,0,1,-1,0,-1,1,0,-1,0,1,-1,-1,0,1,0,-1,1,0,-1,-1,0,1,-1,0,-1,1,-1,0,-1,0,-1,0]
ctla4 = [0,1,1,0,1,2,0,1,2,1,0,1,1,2,0,1,2,2,1,0,1,0,1,2,1,0,1,1,0,1,2,0,1,1,0,2,1,0,-1,1,0,1,-1,0,1,-1,1,0,2,-1,0,1,-1,2,0,-1,1,0,-1,2,0,1,-1,0,1,0,-1,1,0,2,-1,0,1,-1,0,1,-1,0,-1,0]
tigit = [1,0,1,2,0,1,1,0,2,1,1,0,-1,1,2,0,1,1,-1,0,2,1,0,1,1,2,0,-1,1,1,0,2,1,0,1,1,0,1,-1,0,1,0,2,-1,1,0,1,2,-1,0,1,0,-1,1,2,0,-1,1,0,1,-1,0,2,1,-1,0,1,-1,0,1,2,-1,0,1,-1,1,0,-1,0,1]
cd274 = [0,1,-1,0,1,2,-1,0,1,3,0,-1,1,0,2,-1,0,1,0,0,-1,1,0,2,0,-1,1,0,1,-1,2,0,1,0,-1,1,0,2,-1,0,1,-1,0,1,2,0,-1,1,0,-1,1,3,0,-1,1,0,1,-1,0,2,0,-1,1,0,-1,0,1,2,-1,0,1,-1,0,1,-1,0,2,-1,0,1]
havcr2 = [-2,1,0,2,-1,1,2,0,-1,1,0,0,-1,2,1,-1,0,1,-2,1,2,0,1,-1,1,0,2,-1,1,0,1,2,-1,0,1,-1,2,0,1,-1,0,-2,1,0,1,-1,0,2,-1,-2,1,0,-1,1,0,-2,2,-1,0,1,-1,1,-2,0,1,2,-1,0,-2,1,0,-1,1,-2,0,1,-1,0,1,-1]
pdcd1lg2 = [2,1,0,1,2,-1,1,0,2,1,-1,1,2,0,1,3,-1,0,1,2,0,1,-1,2,1,0,-1,1,2,0,1,-1,2,0,0,1,-1,0,2,1,-1,0,1,2,-1,0,1,-1,0,2,-1,1,0,-2,1,0,-1,2,0,-1,1,-1,0,1,-2,0,1,-1,0,2,-1,0,1,-2,0,-1,1,0,-1,1]
ido1 = [-1,0,-1,1,0,-1,0,1,-1,0,0,-1,1,-1,0,1,0,-2,-1,0,1,-1,0,0,1,-1,0,1,-1,0,-1,1,0,-1,0,1,-1,0,1,0,1,-1,0,1,2,0,-1,1,0,1,2,-1,0,1,0,-1,1,2,0,1,-1,0,2,1,0,-1,1,0,2,1,-1,0,1,2,3,0,1,2,0,-1]
lag3 = [-1,1,0,-1,1,2,0,-1,1,0,-1,2,1,-1,0,1,2,-1,0,1,-1,2,0,1,-1,0,2,1,-1,0,1,-1,2,0,1,-1,0,1,2,-1,2,0,1,-1,1,2,0,-1,1,0,2,-1,1,0,-2,1,0,-1,2,1,-1,0,1,-1,0,2,-1,-2,1,0,-1,1,-2,0,1,-1,0,1,-1,-2]
pdcd1 = [-1,0,1,-1,2,1,0,2,-1,1,2,0,-1,1,2,0,1,-1,2,0,1,2,-1,0,1,2,0,-1,1,2,0,-1,2,1,0,-1,1,2,0,1,-1,2,0,1,-1,0,2,-1,1,0,-2,1,0,-1,1,-2,0,1,-1,0,1,2,-2,0,-1,1,0,-2,1,-1,0,1,-2,-1,0,1,-1,-2,0,1]
heat_rows = [btla,ctla4,tigit,cd274,havcr2,pdcd1lg2,ido1,lag3,pdcd1]
# merged rows and merge height, children given as node numbers (leaves 0 to 8, merges from 9)
dend_merges = [[1,2,46],[0,9,63],[4,5,54],[3,11,70],[7,8,58],[6,13,82],[12,14,86],[10,15,96]]

# ---------- panel K
hla = ['HLA-A','HLA-B','HLA-C','HLA-DMA','HLA-DMB','HLA-DOA','HLA-DOB','HLA-DPA1','HLA-DPA3','HLA-DPB1','HLA-DPB2','HLA-DQA1','HLA-DQA2','HLA-DQB1','HLA-DQB1-AS1','HLA-DQB2','HLA-DRA','HLA-DRB1','HLA-DRB5','HLA-DRB6','HLA-DRB9','HLA-E','HLA-F','HLA-F-AS1','HLA-G','HLA-H','HLA-J','HLA-K','HLA-L','HLA-P','HLA-S','HLA-T','HLA-U','HLA-V','HLA-W']
hla_stars = ['-','.','-','***','****','****','***','****','-','****','***','****','**','**','****','***','****','****','****','**','***','*','-','****','-','-','***','*','.','.','.','***','*','**','*']
k_high_up = [11.24,11.7,11.36,8.02,5.9,7.1,5.3,8.56,2.99,9.31,4.42,7.25,8.39,8.62,5.12,8.08,12.03,11.54,10.6,8.08,2.5,10.23,7.27,3.28,9.11,8.13,5.0,6.06,3.23,1.27,5.59,0.6,4.67,2.64,2.62]
k_high_q3 = [9.78,10.13,9.58,6.55,4.77,4.42,2.82,6.94,1.15,7.55,1.64,5.73,5.69,6.47,2.54,5.2,10.54,9.78,8.08,5.75,1.11,8.62,5.4,0.76,2.93,5.9,2.29,3.19,1.74,0.14,1.47,0.21,1.92,0.68,0.68]
k_high_med = [9.1,9.3,8.9,5.6,4.0,3.5,2.1,6.0,0.6,6.7,0.9,4.7,4.3,5.4,1.7,4.1,9.6,8.7,7.0,4.8,0.6,8.1,4.6,0.5,2.1,5.2,1.6,2.4,1.2,0.05,0.9,0.1,1.2,0.3,0.4]
k_high_q1 = [8.33,8.39,8.25,4.71,3.17,2.62,1.39,4.99,0.21,5.83,0.37,3.52,2.95,4.28,0.98,2.97,8.68,7.63,5.83,3.79,0.29,7.51,3.7,0.31,1.41,4.46,1.0,1.66,0.76,0.0,0.47,0.0,0.62,0.08,0.23]
k_high_lo = [5.63,6.1,6.55,2.05,0.78,0.49,0.2,2.17,0.0,2.44,0.0,0.8,0.02,0.66,0.0,0.39,5.26,4.17,2.19,0.0,0.0,5.65,1.8,0.02,0.1,1.21,0.12,0.1,0.08,0.0,0.0,0.0,0.0,0.0,0.0]
k_low_up = [10.75,11.13,10.48,8.29,6.82,6.3,4.38,8.62,2.56,9.31,3.6,7.82,8.68,8.62,5.4,9.5,12.36,11.52,11.0,8.08,3.07,9.66,7.06,3.03,9.38,7.18,5.12,5.22,3.44,1.62,7.6,1.88,4.2,2.89,1.8]
k_low_q3 = [9.7,10.07,9.64,6.71,5.04,4.91,3.03,7.25,1.17,8.04,2.01,6.04,5.92,6.69,3.17,5.71,10.91,10.05,8.6,6.1,1.39,8.7,5.24,0.92,2.91,5.85,2.62,3.36,1.8,0.14,1.49,0.27,2.17,0.9,0.76]
k_low_med = [9.1,9.5,9.1,6.1,4.5,4.2,2.4,6.6,0.7,7.3,1.2,5.3,4.6,5.8,2.4,4.8,10.2,9.3,7.7,5.2,0.9,8.3,4.6,0.7,2.2,5.2,1.9,2.6,1.4,0.05,1.0,0.15,1.4,0.5,0.5]
k_low_q1 = [8.45,8.88,8.53,5.44,3.89,3.4,1.82,6.0,0.29,6.59,0.59,4.46,3.23,4.97,1.6,3.87,9.54,8.62,6.77,4.3,0.49,7.8,3.91,0.49,1.54,4.59,1.29,1.9,1.0,0.0,0.57,0.04,0.72,0.18,0.29]
k_low_lo = [5.53,5.61,5.16,2.95,1.33,0.47,0.08,2.37,0.0,3.03,0.0,1.33,0.65,1.97,0.14,0.61,5.65,4.71,2.85,0.06,0.0,5.92,1.97,0.04,0.16,1.68,0.16,0.1,0.08,0.0,0.0,0.0,0.0,0.0,0.0]

fig = go.Figure()
layout = {}
notes = []
shapes = []


def add_axes(n, box, xa, ya):
    x0, x1, y0, y1 = box
    layout[f'xaxis{n}'] = dict(domain=[x0/W, x1/W], anchor=f'y{n}', **xa)
    layout[f'yaxis{n}'] = dict(domain=[1-y1/H, 1-y0/H], anchor=f'x{n}', **ya)


def note(x, y, text, size=10, font=SERIF, color='#222', angle=0, anchor='center', bold=False):
    if bold:
        text = f'<b>{text}</b>'
    notes.append(dict(x=x/W, y=1-y/H, xref='paper', yref='paper', text=text, showarrow=False, textangle=angle,
                      xanchor=anchor, yanchor='middle', font=dict(family=font, size=size, color=color)))


def dot(cx, cy, r, color):
    shapes.append(dict(type='circle', xref='paper', yref='paper', x0=(cx-r)/W, x1=(cx+r)/W,
                       y0=1-(cy+r)/H, y1=1-(cy-r)/H, fillcolor=color, line_width=0))


def rect(x0, x1, y0, y1, color):
    shapes.append(dict(type='rect', xref='paper', yref='paper', x0=x0/W, x1=x1/W,
                       y0=1-y1/H, y1=1-y0/H, fillcolor=color, line_width=0))


def hline(x0, x1, y, color):
    shapes.append(dict(type='line', xref='paper', yref='paper', x0=x0/W, x1=x1/W,
                       y0=1-y/H, y1=1-y/H, line=dict(color=color, width=1)))


def frame(color='#222', width=1.2, grid='#e8e8e8', size=10, font=SERIF, **kw):
    d = dict(showline=True, mirror=True, linecolor=color, linewidth=width, showgrid=True, gridcolor=grid, gridwidth=1,
             zeroline=False, ticks='outside', ticklen=4, tickcolor=color, tickfont=dict(family=font, size=size, color='#222'))
    d.update(kw)
    return d


hidden = dict(visible=False, showgrid=False, zeroline=False)


def scatter_panel(n, main, top, side, xr, yr, yvals, xs, ys, color, fit_x, fit_y, band_hi, band_lo, top_counts, side_bins, side_counts, side_max):
    add_axes(n, main, frame(range=xr, tickvals=[-2.5, -2, -1.5, -1, -0.5, 0, 0.5], tickformat='.1f'), frame(range=yr, tickvals=yvals))
    add_axes(n+1, top, dict(range=xr, **hidden), dict(range=[0, 115], **hidden))
    add_axes(n+2, side, dict(range=[0, side_max], **hidden), dict(range=yr, **hidden))
    ax = dict(xaxis=f'x{n}', yaxis=f'y{n}')
    fig.add_trace(go.Scatter(x=fit_x + fit_x[::-1], y=band_hi + band_lo[::-1], fill='toself', mode='none',
                             fillcolor='rgba(205,205,205,0.58)', **ax))
    fig.add_trace(go.Scatter(x=xs, y=ys, mode='markers', marker=dict(size=4.2, color=color), cliponaxis=False, **ax))
    fig.add_trace(go.Scatter(x=fit_x, y=fit_y, mode='lines', line=dict(color='#111', width=2), **ax))
    fig.add_trace(go.Bar(x=risk_bins, y=top_counts, marker=dict(color='#A3DBC6', line_width=0), xaxis=f'x{n+1}', yaxis=f'y{n+1}'))
    fig.add_trace(go.Bar(y=side_bins, x=side_counts, orientation='h', marker=dict(color='#FFB9A0', line_width=0), xaxis=f'x{n+2}', yaxis=f'y{n+2}'))


# A
scatter_panel(2, (57.5, 331, 68.3, 328), (57.5, 331, 30, 67.5), (333.5, 369, 68.3, 328), [-2.83, 0.59], [-0.97, 5.9], [0, 1, 2, 3, 4, 5],
              cd274_x, cd274_y, '#4FB5CF', cd274_fit_x, cd274_fit_y, cd274_band_hi, cd274_band_lo, risk_counts, cd274_bins, cd274_counts, 75)
scatter_panel(5, (425.5, 691.5, 68.3, 328), (425.5, 691.5, 30, 67.5), (694.3, 729, 68.3, 328), [-2.8, 0.59], [-0.62, 4.4], [0, 1, 2, 3, 4],
              ctla4_x, ctla4_y, '#D9503F', ctla4_fit_x, ctla4_fit_y, ctla4_band_hi, ctla4_band_lo, risk_counts_r, ctla4_bins, ctla4_counts, 72)
note(61, 81, '-: p=4.7e-7 r=-0.24', 10, anchor='left')
note(429, 81, '-: p=6.6e-6 r=-0.21', 10, anchor='left')
note(193, 354, 'riskscore', 10)
note(558, 354, 'riskscore', 10)
note(34, 199, 'CD274', 10, angle=-90)
note(403, 199, 'CTLA4', 10, angle=-90)

# B
n_bars = min(len(s) for s in til_series)
til = np.array([s[:n_bars] for s in til_series], dtype=float)
til_pct = 100 * til / til.sum(axis=0)
add_axes(8, (811.7, 1312, 29.3, 386.7),
         frame(range=[-0.5, n_bars+2.5], showgrid=False, tickvals=list(range(n_bars)), ticktext=['']*n_bars, ticklen=5, tickwidth=4, tickcolor='#444', linecolor='#444'),
         frame(range=[0, 100], dtick=20, showgrid=False, linecolor='#444'))
for name, col, vals in zip(cell_types, cell_colors, til_pct):
    fig.add_trace(go.Bar(x=list(range(n_bars)), y=vals, name=name, marker=dict(color=col, line_width=0), xaxis='x8', yaxis='y8'))
note(940, 14, 'low riskscore', 12.5, font=SANS)
note(1137.6, 14, 'high riskscore', 12.5, font=SANS)
hline(813, 1054, 22, '#999')
hline(1055, 1301, 22, '#999')
note(1057, 398, 'ID', 10)
note(771.6, 208, 'expression of TILs(%)', 10.5, angle=-90)
note(1320, 38, 'Group', 10.5, anchor='left')
for i, (name, col) in enumerate(zip(cell_types[::-1], cell_colors[::-1])):
    dot(1326, 51.3+13.47*i, 5, col)
    note(1333, 53+13.47*i, name, 10.5, anchor='left')

# C
cx_pos = list(range(len(cell_types)))
add_axes(9, (53, 831, 463, 715),
         frame(range=[-0.826, 21.72], type='linear', showgrid=False, tickvals=cx_pos, ticktext=cell_types, tickangle=-43, ticklabelstandoff=-8,
               tickfont=dict(family='DejaVu Sans', size=10.5, color='#333')),
         frame(range=[-1.19, 2.275], dtick=0.5, tick0=0, tickformat='.1f', grid='#ececec'))
for i in cx_pos:
    fig.add_trace(go.Violin(x0=i, y=high_samples[i], side='negative', width=high_wd[i], bandwidth=high_bw[i], span=[high_end[i], high_tip[i]],
                            spanmode='manual', points=False, fillcolor=ORANGE, line=dict(color='#222', width=0.8), xaxis='x9', yaxis='y9'))
    fig.add_trace(go.Violin(x0=i, y=low_samples[i], side='positive', width=low_wd[i], bandwidth=low_bw[i], span=[low_end[i], low_tip[i]],
                            spanmode='manual', points=False, fillcolor=GREEN, line=dict(color='#222', width=0.8), xaxis='x9', yaxis='y9'))
fig.add_trace(go.Scatter(x=[i-0.1 for i in cx_pos], y=high_mean, mode='markers', marker=dict(symbol='square', size=3, color='#111'),
                         error_y=dict(array=high_sd, color='#111', thickness=0.7, width=1.5), xaxis='x9', yaxis='y9'))
fig.add_trace(go.Scatter(x=[i+0.1 for i in cx_pos], y=low_mean, mode='markers', marker=dict(symbol='square', size=3, color='#111'),
                         error_y=dict(array=low_sd, color='#111', thickness=0.7, width=1.5), xaxis='x9', yaxis='y9'))
fig.add_trace(go.Scatter(x=cx_pos, y=[2.13]*len(cx_pos), mode='text', text=p_labels, textfont=dict(family=SERIF, size=10, color='#222'), xaxis='x9', yaxis='y9'))
note(21, 578, 'expression', 10, angle=-90)
note(444, 831, 'types', 10)
note(835, 573, 'group', 10, anchor='left')
rect(836, 845, 586, 595, ORANGE)
rect(836, 845, 603, 612, GREEN)
note(849, 591, 'high', 10, anchor='left', color=ORANGE)
note(849, 607.5, 'low', 10, anchor='left', color=GREEN)

# D
tfont = dict(family=SERIF, size=9.5)
layout['polar'] = dict(domain=dict(x=[1011/W, 1289/W], y=[1-759/H, 1-481/H]), bgcolor='white',
                       radialaxis=dict(range=[0, 4.33], tickvals=[0.866, 1.732, 2.598, 3.464, 4.33], showticklabels=False, ticks='', showline=False, gridcolor='#999', gridwidth=1),
                       angularaxis=dict(direction='clockwise', rotation=90, categoryorder='array', categoryarray=radar_cats, showticklabels=False, ticks='', linecolor='#111', linewidth=2, gridcolor='#999'))
fig.add_trace(go.Scatterpolar(r=radar_low+radar_low[:1], theta=radar_cats+radar_cats[:1], mode='lines+markers+text', fill='toself',
                              fillcolor='rgba(102,196,166,0.22)', line=dict(color=GREEN, width=1.2), marker=dict(size=8, color=GREEN),
                              text=radar_low_txt+[''], textposition=radar_low_pos+['top right'], textfont=dict(color=GREEN, **tfont)))
fig.add_trace(go.Scatterpolar(r=radar_high+radar_high[:1], theta=radar_cats+radar_cats[:1], mode='lines+markers+text', fill='toself',
                              fillcolor='rgba(255,140,95,0.25)', line=dict(color=ORANGE, width=1.2), marker=dict(size=8, color=ORANGE),
                              text=radar_high_txt+[''], textposition=radar_high_pos+['top right'], textfont=dict(color=ORANGE, **tfont)))
radar_lab_x = [1160, 1274, 1303, 1283, 1226, 1063, 1009, 985, 1041]
radar_lab_y = [468, 503, 590, 702, 767, 767, 702, 593, 506]
for name, lx, ly in zip(radar_cats, radar_lab_x, radar_lab_y):
    note(lx, ly, name, 8.5)
note(1295, 618, '4.33', 8.5)
hline(1352, 1364, 606.5, GREEN)
hline(1352, 1364, 620, ORANGE)
note(1367, 607, 'low', 8.5, anchor='left')
note(1367, 620, 'high', 8.5, anchor='left')


def box_pair(n, high, low, w, d, line=1.2, cap=0.55):
    # each of high, low is a list of [upper, q3, median, q1, lower] lists, by category
    ax = dict(xaxis=f'x{n}', yaxis=f'y{n}')
    for vals, col, off in ((high, ORANGE, -d), (low, GREEN, d)):
        up, q3, med, q1, lo = vals
        fig.add_trace(go.Box(x=[i+off for i in range(len(up))], upperfence=up, q3=q3, median=med, q1=q1, lowerfence=lo, width=w, boxpoints=False,
                             fillcolor=col, line=dict(color=col, width=line), whiskerwidth=cap, **ax))


# E F G H
small_panels = [
    (10, (17, 229, 917, 1119), 121.7, [0.571, 0.996], dict(tickvals=[0.6, 0.7, 0.8, 0.9], tickformat='.1f'), purity_high, purity_low, 'TumorPurity', '7.8e-13', 3, 237, 129),
    (11, (295, 506, 918, 1122), 399, [-1570, 1114], dict(dtick=500, tick0=0, tickformat=','), stromal_high, stromal_low, 'StromalScore', '2.0e-13', 269, 515, 406),
    (12, (568, 781, 918, 1122), 673, [-843, 1946], dict(dtick=500, tick0=0, tickformat=','), immune_high, immune_low, 'ImmuneScore', '2.0e-10', 542, 790, 681),
    (13, (843, 1053, 918, 1122), 946, [-2237, 2833], dict(dtick=1000, tick0=0, tickformat=','), estimate_high, estimate_low, 'ESTIMATEScore', '7.8e-13', 817, 1062, 955),
]
for n, box, tick_px, yr, yt, hv, lv, lab, pv, ty, lx, px in small_panels:
    pitch = 88
    xr = [(box[0]-tick_px)/pitch, (box[1]-tick_px)/pitch]
    add_axes(n, box, frame(range=xr, tickvals=[0], ticktext=[''], color='#777', width=1.3, ticklen=3, grid='#eeeeee'),
             frame(range=yr, color='#777', width=1.3, size=6, ticklen=3, grid='#eeeeee', **yt))
    box_pair(n, [[v] for v in hv], [[v] for v in lv], 0.81, 0.5, line=1, cap=0.5)
    note((box[0]+box[1])/2, 1129, lab, 6)
    note(px, 925, pv, 6)
    note(ty, 1019, 'Expression', 6, angle=-90)
    note(lx-4, 921, 'group', 6, anchor='left')
    dot(lx, 931, 2.8, ORANGE)
    dot(lx, 942, 2.8, GREEN)
    note(lx+4.5, 931.5, 'high', 6, anchor='left')
    note(lx+4.5, 942.5, 'low', 6, anchor='left')

# I
ipos = list(range(len(immune_cats)))
add_axes(14, (1129, 1424, 901, 1123),
         frame(range=[-1.02, 9.19], type='linear', tickvals=ipos, ticktext=immune_cats, tickangle=-40, size=11, ticklabelstandoff=-3),
         frame(range=[-0.25, 8], dtick=2, tick0=0, size=10))
box_pair(14, [i_high_up, i_high_q3, i_high_med, i_high_q1, i_high_lo], [i_low_up, i_low_q3, i_low_med, i_low_q1, i_low_lo], 0.43, 0.23, line=1.3, cap=0.4)
fig.add_trace(go.Scatter(x=ipos, y=[7.55]*len(ipos), mode='text', text=immune_stars, textfont=dict(family=SERIF, size=11, color='#333'), xaxis='x14', yaxis='y14'))
note(1110, 1012, 'Expression', 11, angle=-90)
note(1431, 907, 'risk level', 10.5, anchor='left')
dot(1440, 922, 5.5, ORANGE)
dot(1440, 938, 5.5, GREEN)
note(1447, 923, 'high', 10.5, anchor='left')
note(1447, 939, 'low', 10.5, anchor='left')

# J
add_axes(15, (43, 267, 1252, 1266), dict(range=[-0.5, 1.5], **hidden), dict(range=[-0.5, 0.5], **hidden))
fig.add_trace(go.Heatmap(z=[[0, 1]], x=risk_groups, y=['riskscore'], colorscale=[[0, '#33A70B'], [1, '#AE0F46']], showscale=False, xaxis='x15', yaxis='y15'))
add_axes(16, (43, 267, 1272, 1504), dict(showgrid=False, zeroline=False, showticklabels=False, ticks='', range=[-0.5, len(btla)-0.5]),
         dict(showgrid=False, zeroline=False, range=[8.5, -0.5], side='right', tickvals=list(range(9)), ticktext=genes, ticks='',
              tickfont=dict(family=SANS, size=9.5, color='#222')))
fig.add_trace(go.Heatmap(z=heat_rows, zmin=-4.25, zmax=4.25, xaxis='x16', yaxis='y16',
                         colorscale=[[0, GREEN], [0.147, GREEN], [0.265, '#A3DCC9'], [0.382, '#D6EFE6'], [0.5, '#FFFFFF'],
                                     [0.618, '#FDDCCF'], [0.735, '#FFBCA0'], [0.853, '#FFA27E'], [0.9, ORANGE], [1, ORANGE]],
                         colorbar=dict(x=341/W, xanchor='left', y=1-1378.5/H, yanchor='middle', len=111, lenmode='pixels', thickness=14, thicknessmode='pixels',
                                       tickvals=[-4, -2, 0, 2, 4], ticks='inside', ticklen=14, tickcolor='white', outlinewidth=0, xpad=0, ypad=0,
                                       tickfont=dict(family=SANS, size=9.5, color='#222'))))
add_axes(17, (11, 43, 1272, 1504), dict(range=[97, 0], **hidden), dict(range=[8.5, -0.5], **hidden))
node_y = list(range(9))
node_h = [0]*9
dx, dy = [], []
for a, b, h in dend_merges:
    dx += [node_h[a], h, h, node_h[b], None]
    dy += [node_y[a], node_y[a], node_y[b], node_y[b], None]
    node_y.append((node_y[a]+node_y[b])/2)
    node_h.append(h)
fig.add_trace(go.Scatter(x=dx, y=dy, mode='lines', line=dict(color='#333', width=1), xaxis='x17', yaxis='y17'))
note(271, 1260, 'riskscore', 10, font=SANS, anchor='left')
note(377, 1329, 'riskscore', 10.5, font=SANS, anchor='left')
rect(377, 392, 1342, 1360, '#AE0F46')
rect(377, 392, 1362, 1380, '#33A70B')
note(397, 1352, 'high', 10, font=SANS, anchor='left')
note(397, 1371, 'low', 10, font=SANS, anchor='left')

# K
kpos = list(range(len(hla)))
add_axes(18, (459, 1430, 1238.3, 1485),
         frame(range=[-0.833, 35.13], type='linear', tickvals=kpos, ticktext=hla, tickangle=-48, size=9, ticklabelstandoff=-1),
         frame(range=[-0.47, 14], dtick=2, tick0=0, size=10))
box_pair(18, [k_high_up, k_high_q3, k_high_med, k_high_q1, k_high_lo], [k_low_up, k_low_q3, k_low_med, k_low_q1, k_low_lo], 0.41, 0.225, line=1.3, cap=0.4)
fig.add_trace(go.Scatter(x=kpos, y=[13.2]*len(kpos), mode='text', text=hla_stars, textfont=dict(family=SERIF, size=11, color='#333'), xaxis='x18', yaxis='y18'))
note(432.5, 1362, 'Expression(logFPKM+1)', 10, angle=-90)
note(1439, 1243, 'riskscore', 10, anchor='left')
dot(1444, 1258, 5, ORANGE)
dot(1444, 1274, 5, GREEN)
note(1452, 1259.5, 'high', 10, anchor='left')
note(1452, 1275.5, 'low', 10, anchor='left')

# panel letters
for letter, lx, ly in [('A', 10, 14), ('B', 755, 14), ('C', 11, 459), ('D', 958, 458), ('E', 9, 892), ('F', 276, 892),
                       ('G', 554, 892), ('H', 827, 892), ('I', 1092, 892), ('J', 8, 1234), ('K', 409, 1234)]:
    note(lx, ly, letter, 26, font=SANS, color='#000', bold=True)

fig.update_layout(width=W, height=H, autosize=False, margin=dict(l=0, r=0, t=0, b=0, pad=0, autoexpand=False), showlegend=False,
                  paper_bgcolor='white', plot_bgcolor='white', barmode='stack', bargap=0, annotations=notes, shapes=shapes, **layout)

fig.write_html("out.html", config={'displayModeBar': False}, post_script="document.body.style.margin='0'")
